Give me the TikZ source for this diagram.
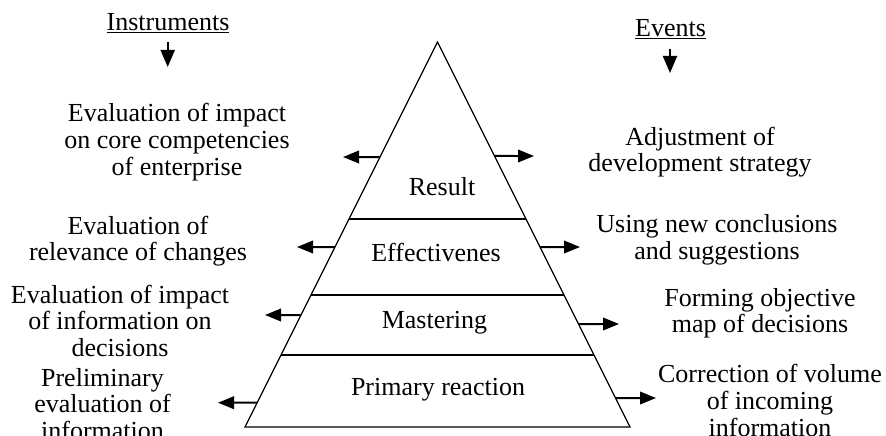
\documentclass[tikz,border=0pt]{standalone}
\usepackage{fontspec}
\setmainfont{Liberation Serif}
\usetikzlibrary{arrows.meta,calc}
\newcommand{\mlines}[1]{\begin{tabular}[t]{@{}c@{}}#1\end{tabular}}
\tikzset{
  lbl/.style={inner sep=0pt, anchor=base, font=\fontsize{26}{26.8}\selectfont},
  edge/.style={line width=1.3pt, line join=miter},
  sidearrow/.style={line width=2pt, -{Triangle[length=16pt,width=12.5pt]}},
  downarrow/.style={line width=2pt, -{Triangle[length=17pt,width=14pt]}}
}
\begin{document}
\begin{tikzpicture}[x=1pt,y=-1pt]
\useasboundingbox (0,0) rectangle (886,436);
% pyramid
\coordinate (apex) at (437.5,42);
\coordinate (bl) at (245,427);
\coordinate (br) at (630,427);
\draw[edge] (apex) -- (bl) -- (br) -- cycle;
\coordinate (l1) at ($(apex)!0.4597!(bl)$);
\coordinate (r1) at ($(apex)!0.4597!(br)$);
\coordinate (l2) at ($(apex)!0.6571!(bl)$);
\coordinate (r2) at ($(apex)!0.6571!(br)$);
\coordinate (l3) at ($(apex)!0.8130!(bl)$);
\coordinate (r3) at ($(apex)!0.8130!(br)$);
\draw[edge] (l1) -- (r1);
\draw[edge] (l2) -- (r2);
\draw[edge] (l3) -- (r3);
% level labels
\node[lbl] (result) at (442,195.7) {Result};
\node[lbl] (eff) at (436,261.7) {Effectivenes};
\node[lbl] (mast) at (434.5,328.3) {Mastering};
\node[lbl] (prim) at (438,395) {Primary reaction};
% headings
\node[lbl] (instr) at (168,31) {\underline{Instruments}};
\node[lbl] (events) at (670.5,37) {\underline{Events}};
\coordinate (ia1) at (167.7,42);
\coordinate (ia2) at (167.7,67);
\coordinate (ea1) at (670,49);
\coordinate (ea2) at (670,73);
\draw[downarrow] (ia1) -- (ia2);
\draw[downarrow] (ea1) -- (ea2);
% left texts
\node[lbl] (lt1) at (177,121.7) {\mlines{Evaluation of impact\\on core competencies\\of enterprise}};
\node[lbl] (lt2) at (138,234) {\mlines{Evaluation of\\relevance of changes}};
\node[lbl] (lt3) at (120,303) {\mlines{Evaluation of impact\\of information on\\decisions}};
\node[lbl] (lt4) at (102.5,386) {\mlines{Preliminary\\evaluation of\\information}};
% right texts
\node[lbl] (rt1) at (700,145) {\mlines{Adjustment of\\development strategy}};
\node[lbl] (rt2) at (717,232.7) {\mlines{Using new conclusions\\and suggestions}};
\node[lbl] (rt3) at (760,306) {\mlines{Forming objective\\map of decisions}};
\node[lbl] (rt4) at (770,382.7) {\mlines{Correction of volume\\of incoming\\information}};
% left arrows
\coordinate (la1s) at ($(apex)!0.2987!(bl)$);
\coordinate (la2s) at ($(apex)!0.5325!(bl)$);
\coordinate (la3s) at ($(apex)!0.7091!(bl)$);
\coordinate (la4s) at ($(apex)!0.9369!(bl)$);
\coordinate (la1e) at (343,157);
\coordinate (la2e) at (297,247);
\coordinate (la3e) at (265,315);
\coordinate (la4e) at (218,402.7);
\draw[sidearrow] (la1s) -- (la1e);
\draw[sidearrow] (la2s) -- (la2e);
\draw[sidearrow] (la3s) -- (la3e);
\draw[sidearrow] (la4s) -- (la4e);
% right arrows
\coordinate (ra1s) at ($(apex)!0.2961!(br)$);
\coordinate (ra2s) at ($(apex)!0.5325!(br)$);
\coordinate (ra3s) at ($(apex)!0.7325!(br)$);
\coordinate (ra4s) at ($(apex)!0.9247!(br)$);
\coordinate (ra1e) at (534,156);
\coordinate (ra2e) at (580,247);
\coordinate (ra3e) at (619,324);
\coordinate (ra4e) at (656,398);
\draw[sidearrow] (ra1s) -- (ra1e);
\draw[sidearrow] (ra2s) -- (ra2e);
\draw[sidearrow] (ra3s) -- (ra3e);
\draw[sidearrow] (ra4s) -- (ra4e);
\end{tikzpicture}
\end{document}
